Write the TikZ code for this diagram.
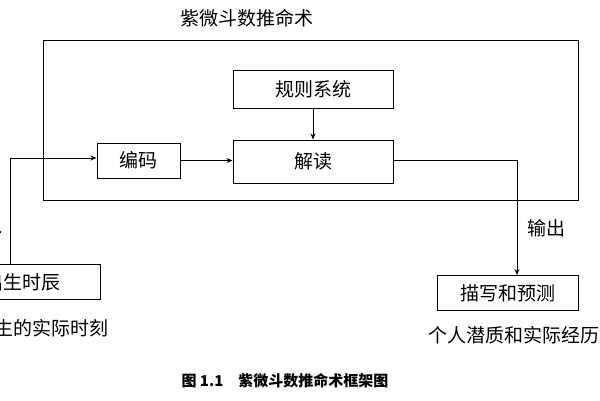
\documentclass[tikz,border=0pt]{standalone}
\usepackage{fontspec}
\setmainfont{Noto Sans CJK SC}
\usetikzlibrary{arrows.meta}
\begin{document}
\begin{tikzpicture}[x=1pt,y=-1pt,
  bx/.style={draw,line width=1pt,inner sep=0pt,font=\fontsize{19}{21}\selectfont},
  txt/.style={font=\fontsize{19}{21}\selectfont,inner sep=0pt},
  ln/.style={line width=1pt},
  ar/.style={line width=1pt,-{Stealth[length=6pt,width=5pt]}}]
\useasboundingbox (0,0) rectangle (600,400);
\clip (0,0) rectangle (600,400);
\node[txt] (title) at (247,18) {紫微斗数推命术};
\node[draw,line width=1pt,minimum width=535,minimum height=160,inner sep=0pt] (outer) at (310.5,120) {};
\node[bx,minimum width=160,minimum height=38] (rule) at (313,89) {规则系统};
\node[bx,minimum width=83,minimum height=35] (enc) at (138.5,160.5) {编码};
\node[bx,minimum width=160,minimum height=43] (dec) at (313,161.5) {解读};
\node[draw,line width=1pt,minimum width=150,minimum height=35,inner sep=0pt] (birth) at (25,282) {};
\node[txt] (birtht0) at (22,282) {出生时辰};
\node[txt] (birtht) at (42,328) {出生的实际时刻};
\node[txt] (inlab) at (-16,225) {输入};
\node[bx,minimum width=141,minimum height=35] (desc) at (507.5,293) {描写和预测};
\node[txt,anchor=west] (desct) at (428,335) {个人潜质和实际经历};
\node[txt] (outlab) at (546,228) {输出};
\node[font=\bfseries\fontsize{15}{17}\selectfont,inner sep=0pt] (cap) at (285,381) {图 1.1\quad 紫微斗数推命术框架图};
\coordinate (c1) at (10,158);
\coordinate (c2) at (517,160);
\draw[ar] (rule.south) -- (dec.north);
\draw[ar] (enc.east) -- (dec.west |- enc.east);
\draw[ar] (birth.north -| c1) -- (c1) -- (enc.west |- c1);
\draw[ar] (dec.east |- c2) -- (c2) -- (desc.north -| c2);
\end{tikzpicture}
\end{document}
